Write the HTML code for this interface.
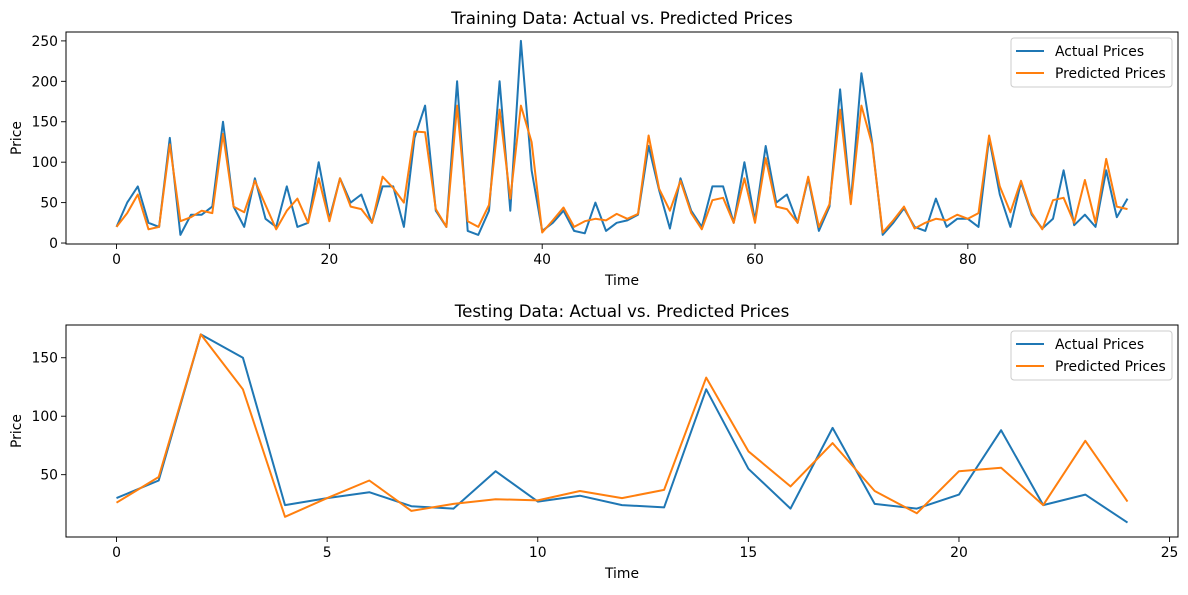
<!DOCTYPE html>
<html><head><meta charset="utf-8"><style>
body{margin:0;background:#fff;font-family:"Liberation Sans","DejaVu Sans",sans-serif}
svg text{font-family:"DejaVu Sans","Liberation Sans",sans-serif;fill:#000}
</style></head><body>
<svg id="c" width="1188" height="590" xmlns="http://www.w3.org/2000/svg"></svg>
<script>
const trainX = Array.from({length:96},(_,i)=>i);
const trainActual=[20,50,70,25,20,130,10,35,35,45,150,45,20,80,30,20,70,20,25,100,30,80,50,60,25,70,70,20,130,170,40,20,200,15,10,40,200,40,250,90,15,25,40,15,12,50,15,25,28,35,120,65,18,80,40,20,70,70,25,100,28,120,50,60,25,80,15,45,190,50,210,125,10,25,43,20,15,55,20,30,30,20,130,60,20,75,35,18,30,90,22,35,20,90,32,55];
const trainPred=[20,37,60,17,20,122,27,32,40,37,135,45,38,77,47,17,40,55,25,80,27,80,45,42,25,82,68,50,138,137,42,20,170,27,20,47,165,55,170,125,13,28,44,20,27,30,28,36,30,36,133,67,40,77,37,17,53,56,25,80,25,105,45,42,25,82,20,48,165,48,170,122,13,28,45,18,25,30,28,35,30,37,133,70,38,77,37,17,53,56,25,78,25,104,45,42];
const testX = Array.from({length:25},(_,i)=>i);
const testActual=[30,45,170,150,24,30,35,23,21,53,27,32,24,22,123,55,21,90,25,21,33,88,24,33,9];
const testPred=[26,48,170,123,14,30,45,19,25,29,28,36,30,37,133,70,40,77,36,17,53,56,24,79,27];
const topXTicks=[0,20,40,60,80], topYTicks=[0,50,100,150,200,250];
const botXTicks=[0,5,10,15,20,25], botYTicks=[50,100,150];
const NS="http://www.w3.org/2000/svg", svg=document.getElementById('c');
function el(t,a,p){const e=document.createElementNS(NS,t);for(const k in a)e.setAttribute(k,a[k]);(p||svg).appendChild(e);return e;}
function panel(o){
  const g=el('g',{});
  
  
  const sx=v=>o.L+(v-o.x0)/(o.x1-o.x0)*(o.R-o.L), sy=v=>o.B-(v-o.y0)/(o.y1-o.y0)*(o.B-o.T);
  o.xt.forEach(v=>{const x=sx(v);el('line',{x1:x,x2:x,y1:o.B,y2:o.B+5,stroke:'#000','stroke-width':0.9},g);
    const t=el('text',{x:x,y:o.B+20,'font-size':13.9,'text-anchor':'middle'},g);t.textContent=v;
    });
  o.yt.forEach(v=>{const y=sy(v);el('line',{x1:o.L-5,x2:o.L,y1:y,y2:y,stroke:'#000','stroke-width':0.9},g);
    const t=el('text',{x:o.L-8,y:y+5,'font-size':13.9,'text-anchor':'end'},g);t.textContent=v;
    });
  [[o.xs,o.a,'#1f77b4','actual-line'],[o.xs,o.p,'#ff7f0e','predicted-line']].forEach(([xs,ys,c,n])=>{
    const pl=el('polyline',{points:xs.map((x,i)=>sx(x).toFixed(1)+','+sy(ys[i]).toFixed(1)).join(' '),fill:'none',stroke:c,'stroke-width':2,'stroke-linejoin':'round'},g);
    });
  el('rect',{x:o.L,y:o.T,width:o.R-o.L,height:o.B-o.T,fill:'none',stroke:'#000','stroke-width':1},g);
  const ti=el('text',{x:(o.L+o.R)/2,y:o.T-8,'font-size':16.7,'text-anchor':'middle'},g);ti.textContent=o.title;
  
  const xl=el('text',{x:(o.L+o.R)/2,y:o.B+41,'font-size':13.9,'text-anchor':'middle'},g);xl.textContent='Time';
  
  const cy=(o.T+o.B)/2;const yl=el('text',{x:21,y:cy,'font-size':13.9,'text-anchor':'middle',transform:`rotate(-90 21 ${cy})`},g);yl.textContent='Price';
  
  const lg=el('g',{},g);
  el('rect',{x:1011,y:o.T+6,width:161,height:49,rx:3,fill:'#fff',stroke:'#ccc','stroke-width':1},lg);
  [['Actual Prices','#1f77b4'],['Predicted Prices','#ff7f0e']].forEach(([s,c],i)=>{
    const y=o.T+19+i*22;el('line',{x1:1016,x2:1044,y1:y,y2:y,stroke:c,'stroke-width':2},lg);
    const t=el('text',{x:1055,y:y+5,'font-size':13.9},lg);t.textContent=s;
    });
}
panel({name:'training-chart',L:66,R:1178,T:32,B:244,x0:-4.75,x1:99.75,y0:-1.2,y1:261,xs:trainX,a:trainActual,p:trainPred,xt:topXTicks,yt:topYTicks,title:'Training Data: Actual vs. Predicted Prices'});
panel({name:'testing-chart',L:66,R:1178,T:325,B:537,x0:-1.2,x1:25.2,y0:-3.3,y1:178,xs:testX,a:testActual,p:testPred,xt:botXTicks,yt:botYTicks,title:'Testing Data: Actual vs. Predicted Prices'});
</script>
</body></html>
